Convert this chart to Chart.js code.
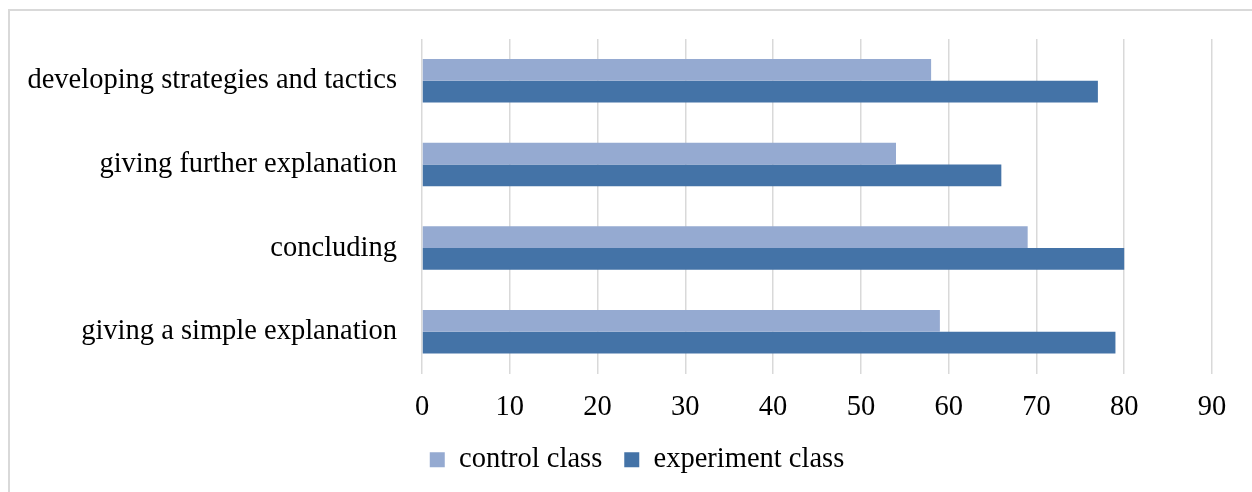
<!DOCTYPE html>
<html>
<head>
<meta charset="utf-8">
<script src="https://cdn.jsdelivr.net/npm/chart.js@4.4.1/dist/chart.umd.min.js"></script>
<style>
  html, body { margin: 0; padding: 0; background: #fff; overflow: hidden; }
  #wrap { position: relative; width: 1252px; height: 492px; }
  #frame { position: absolute; left: 8px; top: 9px; width: 2000px; height: 2000px; border: 2px solid #d9d9d9; box-sizing: border-box; }
  canvas { position: absolute; left: 0; top: 0; }
</style>
</head>
<body>
<div id="wrap">
  <div id="frame"></div>
  <canvas id="c" width="1252" height="492"></canvas>
</div>
<script>
const categories = [
  "developing strategies and tactics",
  "giving further explanation",
  "concluding",
  "giving a simple explanation"
];
const seriesNames = ["control class", "experiment class"];
const controlValues = [58, 54, 69, 59];
const experimentValues = [77, 66, 80, 79];
const xMin = 0, xMax = 90, xStep = 10;

const FONT = { family: "'Liberation Serif', 'Times New Roman', serif", size: 28.5 };

new Chart(document.getElementById('c'), {
  type: 'bar',
  data: {
    labels: categories,
    datasets: [
      { label: seriesNames[0], data: controlValues, backgroundColor: '#95aad1', borderWidth: 0 },
      { label: seriesNames[1], data: experimentValues, backgroundColor: '#4473a7', borderWidth: 0 }
    ]
  },
  options: {
    indexAxis: 'y',
    responsive: false,
    animation: false,
    devicePixelRatio: 1,
    categoryPercentage: 0.52,
    barPercentage: 1.0,
    layout: { padding: { top: 39, left: 22, right: 0, bottom: 8 } },
    plugins: {
      tooltip: { enabled: false },
      legend: {
        position: 'bottom',
        labels: {
          font: FONT,
          color: '#000',
          boxWidth: 15,
          boxHeight: 15,
          padding: 22
        }
      }
    },
    scales: {
      x: {
        min: xMin, max: xMax,
        ticks: { stepSize: xStep, font: FONT, color: '#000', padding: 17, maxRotation: 0 },
        grid: { color: '#d9d9d9', lineWidth: 1.5, drawTicks: false },
        border: { display: false },
        afterFit: s => { s.height = 50; }
      },
      y: {
        ticks: { font: FONT, color: '#000', padding: 17 },
        grid: { display: false },
        border: { display: false },
        afterFit: s => { s.width = 400; }
      },
      y2: {
        type: 'category',
        position: 'right',
        ticks: { display: false },
        grid: { display: false },
        border: { display: false },
        afterFit: s => { s.width = 40; }
      }
    }
  }
});
</script>
</body>
</html>
